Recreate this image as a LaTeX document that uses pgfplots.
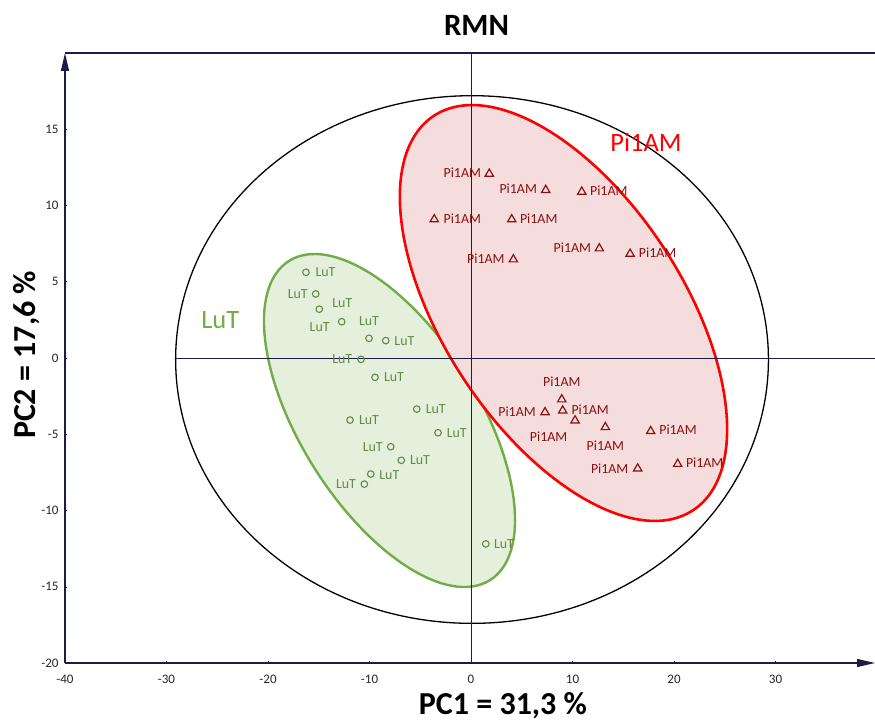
\documentclass[border=0pt]{standalone}
\usepackage{pgfplots}
\pgfplotsset{compat=1.18}
\usepackage{fontspec}
\setmainfont{Carlito}
\usetikzlibrary{arrows.meta}
\definecolor{axiscol}{RGB}{28,28,72}
\definecolor{pired}{RGB}{139,16,16}
\definecolor{lutmark}{RGB}{100,135,75}
\definecolor{lutline}{RGB}{112,173,71}
\definecolor{lutfill}{RGB}{229,240,220}
\definecolor{redline}{RGB}{255,0,0}
\definecolor{redfill}{RGB}{245,220,221}
\newcommand\lblfont{\fontsize{13.9}{16}\selectfont}
\begin{document}
\begin{tikzpicture}
\begin{axis}[
  scale only axis, width=810pt, height=610pt,
  xmin=-40, xmax=39.8, ymin=-20, ymax=20,
  axis lines=left,
  axis line style={draw=axiscol, line width=1.2pt, -{Triangle[length=18pt,width=8pt]}},
  xtick={-40,-30,-20,-10,0,10,20,30},
  xticklabels={-40,-30,-20,-10,0,10,20,30},
  ytick={-20,-15,-10,-5,0,5,10,15},
  yticklabels={-20,-15,-10,-5,0,5,10,15},
  tick style={draw=axiscol, line width=0.5pt},
  major tick length=2pt, tick align=inside,
  ticklabel style={font=\fontsize{13}{15}\selectfont, text=black!85},
  xticklabel style={yshift=-9pt},
  yticklabel style={xshift=-3pt},
  clip=false,
]
\coordinate (ll) at (rel axis cs:0,0);
\coordinate (ur) at (rel axis cs:1,1);
% top frame line
\draw[axiscol, line width=1.2pt] (rel axis cs:0,1) -- (rel axis cs:1,1);
% confidence ellipse (Hotelling)
\draw[black, line width=1.3pt] (axis cs:0.1,-0.1) ellipse [x radius=29.2, y radius=17.3];
% group ellipses
\draw[draw=lutline, fill=lutfill, line width=2.4pt, rotate around={122.2:(axis cs:-8.03,-4.10)}] (axis cs:-8.03,-4.10) ellipse [x radius=188.6pt, y radius=88.9pt];
\draw[draw=redline, fill=redfill, line width=2.6pt, rotate around={123.3:(axis cs:9.11,2.95)}] (axis cs:9.11,2.95) ellipse [x radius=236pt, y radius=119.6pt];
% origin lines
\addplot[axiscol, line width=0.9pt] coordinates {(0,-20) (0,20)};
\addplot[axiscol, line width=0.9pt] coordinates {(-29.2,0) (39.8,0)};
% LuT points
\addplot[only marks, mark=o, mark size=3.3pt, mark options={draw=lutmark, line width=1.1pt},
  visualization depends on={\thisrow{dx} \as \ldx},
  visualization depends on={\thisrow{dy} \as \ldy},
  nodes near coords={LuT},
  every node near coord/.append style={anchor=center, xshift=\ldx pt, yshift=\ldy pt, font=\lblfont, text=lutmark, inner sep=0pt}]
  table[x=x, y=y] {
x y dx dy
-16.26 5.62 19.5 0
-15.30 4.20 -18 0
-14.95 3.20 23 6
-12.74 2.38 -22 -5.5
-10.05 1.29 0 17.5
-8.40 1.14 18.7 0
-10.84 -0.09 -18.7 0
-9.46 -1.27 19 0
-5.35 -3.35 19 0
-11.92 -4.07 19 0
-3.25 -4.90 18.7 0
-7.91 -5.82 -18 0
-6.87 -6.71 18.7 0
-9.88 -7.61 18.6 -1
-10.51 -8.27 -18.3 0
1.45 -12.19 18.3 0
};
% Pi1AM points
\addplot[only marks, mark=triangle, mark size=4.8pt, mark options={draw=pired, line width=1.2pt},
  visualization depends on={\thisrow{dx} \as \ldx},
  visualization depends on={\thisrow{dy} \as \ldy},
  nodes near coords={Pi1AM},
  every node near coord/.append style={anchor=center, xshift=\ldx pt, yshift=\ldy pt, font=\lblfont, text=pired, inner sep=0pt}]
  table[x=x, y=y] {
x y dx dy
1.80 12.08 -27 1
7.36 11.01 -27.5 1
10.91 10.90 27 1
-3.62 9.09 28 1
4.01 9.09 27 1
12.64 7.18 -27 1
15.67 6.83 27.5 1
4.17 6.46 -27.5 1
8.94 -2.72 0 17.5
7.29 -3.56 -28 0.5
9.03 -3.45 27.5 1
10.25 -4.10 -26.5 -16.5
13.23 -4.54 0 -18.5
17.70 -4.80 27.3 1
16.42 -7.25 -28 0
20.36 -6.95 27 1
};
% group labels
\node[text=lutline, font=\fontsize{26.5}{30}\selectfont] at (axis cs:-24.7,2.5) {LuT};
\node[text=redline, font=\fontsize{26.5}{30}\selectfont] at (axis cs:17.24,14.17) {Pi1AM};
% title and axis titles
\node[font=\fontsize{31}{34}\selectfont\bfseries] at ([yshift=28pt]axis cs:0.54,20) {RMN};
\node[font=\fontsize{32}{34}\selectfont\bfseries, anchor=base] at ([yshift=-51pt]axis cs:3.15,-20) {PC1 = 31,3 \%};
\node[font=\fontsize{32}{34}\selectfont\bfseries, anchor=base, rotate=90] at ([xshift=-29pt]axis cs:-40,0.2) {PC2 = 17,6 \%};
\end{axis}
\pgfresetboundingbox
\path ([shift={(-65pt,-58pt)}]ll) rectangle ([shift={(0pt,53pt)}]ur);
\end{tikzpicture}
\end{document}
